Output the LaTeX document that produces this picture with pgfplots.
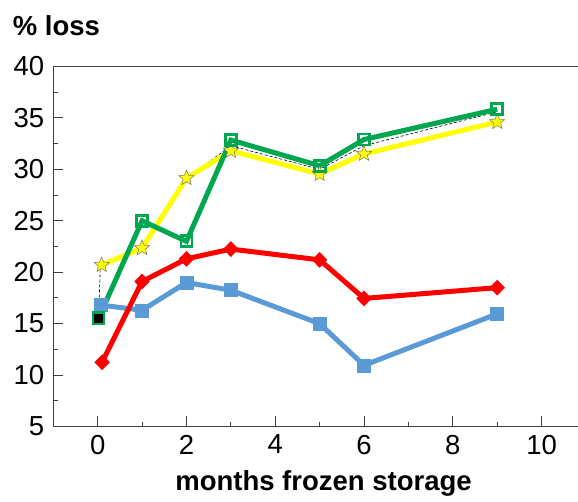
\documentclass[border=0pt]{standalone}
\usepackage{pgfplots}
\pgfplotsset{compat=1.18}
\usepackage{fontspec}
\setmainfont{Liberation Sans}
\definecolor{cblue}{RGB}{91,155,213}
\definecolor{cred}{RGB}{255,0,0}
\definecolor{cgreen}{RGB}{0,166,80}
\definecolor{cyellow}{RGB}{255,255,0}
\definecolor{caxis}{RGB}{64,64,64}
\pgfdeclareplotmark{fstar}{%
  \pgfpathmoveto{\pgfpointpolar{90}{\pgfplotmarksize}}%
  \pgfpathlineto{\pgfpointpolar{126}{0.45\pgfplotmarksize}}%
  \pgfpathlineto{\pgfpointpolar{162}{\pgfplotmarksize}}%
  \pgfpathlineto{\pgfpointpolar{198}{0.45\pgfplotmarksize}}%
  \pgfpathlineto{\pgfpointpolar{234}{\pgfplotmarksize}}%
  \pgfpathlineto{\pgfpointpolar{270}{0.45\pgfplotmarksize}}%
  \pgfpathlineto{\pgfpointpolar{306}{\pgfplotmarksize}}%
  \pgfpathlineto{\pgfpointpolar{342}{0.45\pgfplotmarksize}}%
  \pgfpathlineto{\pgfpointpolar{18}{\pgfplotmarksize}}%
  \pgfpathlineto{\pgfpointpolar{54}{0.45\pgfplotmarksize}}%
  \pgfpathclose
  \pgfusepathqfillstroke
}
\begin{document}
\begin{tikzpicture}
\begin{axis}[
  at={(53.3pt,74.5pt)}, anchor=south west,
  scale only axis, width=524.7pt, height=360pt,
  xmin=-1, xmax=10.82, ymin=5, ymax=40,
  axis x line*=bottom, axis y line*=left,
  axis line style={color=caxis, line width=1.3pt, -},
  xtick={0,2,...,10}, ytick={5,10,...,40},
  minor x tick num=1, minor y tick num=1,
  tick align=inside, major tick length=10pt, minor tick length=5pt,
  tick style={color=caxis, line width=1pt},
  ticklabel style={font=\fontsize{27.5}{30}\selectfont},
  yticklabel style={inner sep=9pt},
  /pgf/number format/assume math mode=true,
  xticklabel style={yshift=-5pt},
  xlabel={months frozen storage},
  xlabel style={at={(axis description cs:0.515,0)}, anchor=base, yshift=-63.5pt, font=\fontsize{27.5}{30}\selectfont\bfseries},
  clip=false,
]
\draw[caxis, line width=1.3pt] (rel axis cs:0,1) -- (rel axis cs:1,1);
\node[anchor=base west, inner sep=0pt, xshift=-40.6pt, yshift=31pt, font=\fontsize{27.5}{30}\selectfont\bfseries] at (rel axis cs:0,1) {\% loss};
% black dashed hidden series
\addplot[black, line width=0.6pt, densely dashed, mark=none] coordinates {
 (0.02,15.6) (0.06,20.7) (1,22.4) (2,29.1) (3,32.3) (5,30.0) (6,32.3) (9,35.6)};
% blue
\addplot[cblue, line width=5pt, mark=square*, mark size=6.5pt, mark options={solid, fill=cblue, line width=0.5pt}] coordinates {
 (0.08,16.8) (1,16.3) (2,19.0) (3,18.25) (5,15.0) (6,10.95) (9,15.95)};
% red
\addplot[cred, line width=5pt, mark=diamond*, mark size=7.5pt, mark options={solid, fill=cred, line width=0.5pt, xscale=1.3}] coordinates {
 (0.1,11.25) (1,19.1) (2,21.3) (3,22.25) (5,21.2) (6,17.45) (9,18.5)};
% yellow
\addplot[cyellow, line width=5pt, mark=fstar, mark size=8pt, mark options={solid, fill=cyellow, draw=black!55, line width=0.5pt}] coordinates {
 (0.09,20.7) (1,22.35) (2,29.15) (3,31.8) (5,29.55) (6,31.5) (9,34.6)};
% green
\addplot[cgreen, line width=5pt, mark=square, mark size=5.5pt, mark options={solid, fill=white, line width=2.8pt}] coordinates {
 (0.02,15.55) (1,25.0) (2,23.0) (3,32.85) (5,30.35) (6,32.9) (9,35.85)};
\addplot[only marks, mark=square*, mark size=4pt, mark options={fill=black, draw=black}] coordinates {(0.02,15.55)};
\end{axis}
\pgfresetboundingbox
\path[use as bounding box] (0,0) rectangle (578pt,501pt);
\end{tikzpicture}
\end{document}
